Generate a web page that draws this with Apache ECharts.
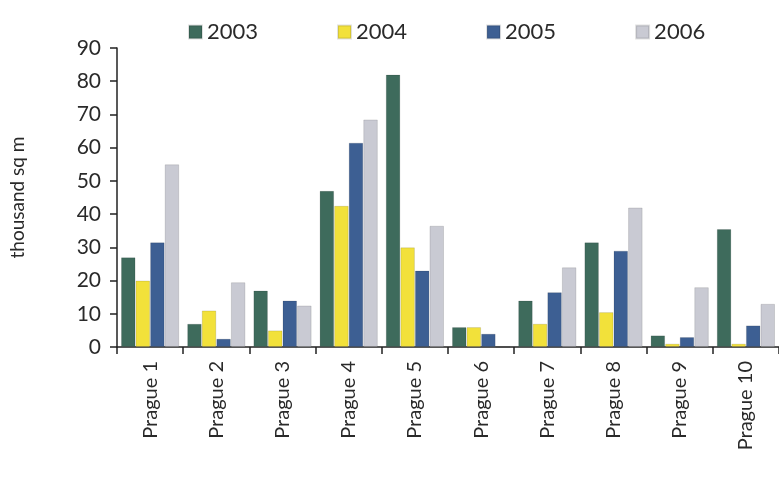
<!DOCTYPE html>
<html>
<head>
<meta charset="utf-8">
<style>
	html, body {margin:0; padding:0; background:#fff;}
	#chart {width:779px; height:484px;}
</style>
<script src="https://cdn.jsdelivr.net/npm/echarts@6/dist/echarts.min.js"></script>
</head>
<body>
<div id="chart"></div>
<script>
	var categories = ['Prague 1', 'Prague 2', 'Prague 3', 'Prague 4', 'Prague 5', 'Prague 6', 'Prague 7', 'Prague 8', 'Prague 9', 'Prague 10'];
	var years = ['2003', '2004', '2005', '2006'];
	var data2003 = [27, 7, 17, 47, 82, 6, 14, 31.5, 3.5, 35.5];
	var data2004 = [20, 11, 5, 42.5, 30, 6, 7, 10.5, 1, 1];
	var data2005 = [31.5, 2.5, 14, 61.5, 23, 4, 16.5, 29, 3, 6.5];
	var data2006 = [55, 19.5, 12.5, 68.5, 36.5, 0, 24, 42, 18, 13];
	var colors = ['#3e6b5c', '#f2e13a', '#3d5f93', '#c9cad3'];

	var font = 'Lato, "Open Sans", sans-serif';
	var myChart = echarts.init(document.getElementById('chart'));
	// one bar series per year
	var series = [data2003, data2004, data2005, data2006].map(function(d, i) {
		return {
			name: years[i],
			type: 'bar',
			data: d,
			barGap: '0%',
			barCategoryGap: '12%',
			itemStyle: {color: colors[i], borderColor: 'rgba(0,0,0,0.12)', borderWidth: 1}
		};
	});
	var option = {
		animation: false,
		color: colors,
		legend: {
			data: years,
			top: 16,
			left: 183,
			itemWidth: 13,
			itemHeight: 13,
			itemGap: 79,
			icon: 'rect',
			textStyle: {fontFamily: font, fontSize: 22, color: '#2a2a2a'}
		},
		grid: {left: 117, right: -7, top: 48, bottom: 137},
		xAxis: {
			type: 'category',
			data: categories,
			axisLine: {lineStyle: {color: '#222', width: 1.5}},
			axisTick: {show: true, length: 7, lineStyle: {color: '#222', width: 1.5}},
			axisLabel: {rotate: 90, fontFamily: font, fontSize: 20, color: '#2a2a2a', margin: 14}
		},
		yAxis: {
			type: 'value',
			min: 0,
			max: 90,
			interval: 10,
			name: 'thousand sq m',
			nameLocation: 'middle',
			nameGap: 90,
			nameTextStyle: {fontFamily: font, fontSize: 19, color: '#2a2a2a'},
			splitLine: {show: false},
			axisLine: {show: true, lineStyle: {color: '#222', width: 1.5}},
			axisTick: {show: true, length: 7, lineStyle: {color: '#222', width: 1.5}},
			axisLabel: {fontFamily: font, fontSize: 21, color: '#2a2a2a', margin: 16}
		},
		series: series
	};
	myChart.setOption(option);
</script>
</body>
</html>
